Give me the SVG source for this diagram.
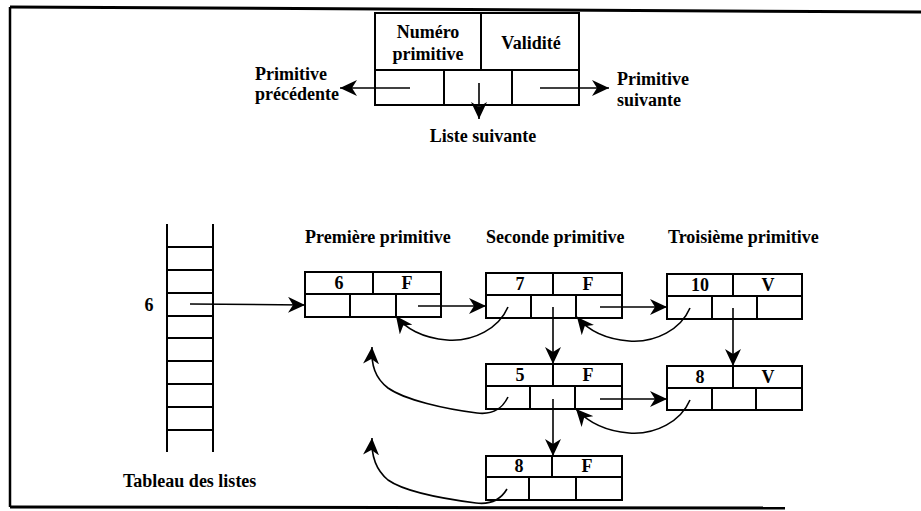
<svg xmlns="http://www.w3.org/2000/svg" width="921" height="511" viewBox="0 0 921 511">
<defs>
<marker id="ah" markerUnits="userSpaceOnUse" markerWidth="18" markerHeight="16" viewBox="0 0 18 16" refX="17" refY="8" orient="auto">
<path d="M0,0 L17,8 L0,16 L5,8 z" fill="#000"/>
</marker>
<style>
.b{fill:#fff;stroke:#000;stroke-width:2}
.l{stroke:#000;stroke-width:2;fill:none}
.c{stroke:#000;stroke-width:1.6;fill:none;marker-end:url(#ah)}
.t{font-family:'Liberation Serif','DejaVu Serif',serif;font-weight:bold;font-size:18px;fill:#000}
.m{text-anchor:middle}
</style>
</defs>
<rect width="921" height="511" fill="#fff"/>
<g id="frame">
<path d="M10,7 L921,12" stroke="#000" stroke-width="3" fill="none"/>
<path d="M10,7 L10,507" stroke="#000" stroke-width="2.5" fill="none"/>
<path d="M10,507 L785,508" stroke="#000" stroke-width="3" fill="none"/>
</g>
<g id="legend" class="t" font-family="Liberation Serif, serif">
<rect class="b" x="375" y="13" width="204" height="92"/>
<line class="l" x1="375" y1="70" x2="579" y2="70"/>
<line class="l" x1="481" y1="13" x2="481" y2="70"/>
<line class="l" x1="444" y1="70" x2="444" y2="105"/>
<line class="l" x1="512" y1="70" x2="512" y2="105"/>
<text class="m" x="428" y="38">Numéro</text>
<text class="m" x="428" y="60">primitive</text>
<text class="m" x="531" y="49">Validité</text>
</g>
<g id="lbl-prev" class="t"><text x="255" y="80">Primitive</text><text x="255" y="100">précédente</text></g>
<g id="lbl-next" class="t"><text x="617" y="85">Primitive</text><text x="617" y="106">suivante</text></g>
<g id="lbl-list" class="t"><text class="m" x="483" y="142">Liste suivante</text></g>
<g id="table" class="t">
<line class="l" x1="167" y1="224" x2="167" y2="452"/>
<line class="l" x1="213" y1="224" x2="213" y2="452"/>
<line class="l" x1="167" y1="247" x2="213" y2="247"/>
<line class="l" x1="167" y1="270" x2="213" y2="270"/>
<line class="l" x1="167" y1="293" x2="213" y2="293"/>
<line class="l" x1="167" y1="316" x2="213" y2="316"/>
<line class="l" x1="167" y1="338" x2="213" y2="338"/>
<line class="l" x1="167" y1="361" x2="213" y2="361"/>
<line class="l" x1="167" y1="384" x2="213" y2="384"/>
<line class="l" x1="167" y1="407" x2="213" y2="407"/>
<line class="l" x1="167" y1="430" x2="213" y2="430"/>
<text class="m" x="149" y="311">6</text>
<text x="123" y="487">Tableau des listes</text>
</g>
<g id="titles" class="t">
<text x="305" y="243">Première primitive</text>
<text x="486" y="243">Seconde primitive</text>
<text x="668" y="243">Troisième primitive</text>
</g>
<g id="p1" class="t" transform="translate(305,272)">
<rect class="b" width="136" height="45"/><line class="l" x1="0" y1="22" x2="136" y2="22"/><line class="l" x1="68" y1="0" x2="68" y2="22"/><line class="l" x1="45" y1="22" x2="45" y2="45"/><line class="l" x1="91" y1="22" x2="91" y2="45"/>
<text class="m" x="34" y="17">6</text><text class="m" x="102" y="17">F</text>
</g>
<g id="p2" class="t" transform="translate(486,273)">
<rect class="b" width="136" height="45"/><line class="l" x1="0" y1="22" x2="136" y2="22"/><line class="l" x1="67" y1="0" x2="67" y2="22"/><line class="l" x1="45" y1="22" x2="45" y2="45"/><line class="l" x1="90" y1="22" x2="90" y2="45"/>
<text class="m" x="34" y="17">7</text><text class="m" x="102" y="17">F</text>
</g>
<g id="p3" class="t" transform="translate(667,274)">
<rect class="b" width="135" height="45"/><line class="l" x1="0" y1="22" x2="135" y2="22"/><line class="l" x1="66" y1="0" x2="66" y2="22"/><line class="l" x1="45" y1="22" x2="45" y2="45"/><line class="l" x1="90" y1="22" x2="90" y2="45"/>
<text class="m" x="33" y="17">10</text><text class="m" x="101" y="17">V</text>
</g>
<g id="p4" class="t" transform="translate(486,364)">
<rect class="b" width="136" height="45"/><line class="l" x1="0" y1="22" x2="136" y2="22"/><line class="l" x1="67" y1="0" x2="67" y2="22"/><line class="l" x1="44" y1="22" x2="44" y2="45"/><line class="l" x1="89" y1="22" x2="89" y2="45"/>
<text class="m" x="34" y="17">5</text><text class="m" x="102" y="17">F</text>
</g>
<g id="p5" class="t" transform="translate(667,366)">
<rect class="b" width="135" height="44"/><line class="l" x1="0" y1="22" x2="135" y2="22"/><line class="l" x1="66" y1="0" x2="66" y2="22"/><line class="l" x1="45" y1="22" x2="45" y2="44"/><line class="l" x1="89" y1="22" x2="89" y2="44"/>
<text class="m" x="33" y="17">8</text><text class="m" x="101" y="17">V</text>
</g>
<g id="p6" class="t" transform="translate(486,456)">
<rect class="b" width="136" height="44"/><line class="l" x1="0" y1="21" x2="136" y2="21"/><line class="l" x1="66" y1="0" x2="66" y2="21"/><line class="l" x1="43" y1="21" x2="43" y2="44"/><line class="l" x1="90" y1="21" x2="90" y2="44"/>
<text class="m" x="33" y="16">8</text><text class="m" x="101" y="16">F</text>
</g>
<g id="connectors">
<path class="c" d="M410,88 L340,88"/>
<path class="c" d="M479,83 L479,119"/>
<path class="c" d="M540,88 L609,88"/>
<path class="c" d="M190,304 L305,305"/>
<path class="c" d="M418,306 L486,306"/>
<path class="c" d="M600,307 L667,307"/>
<path class="c" d="M553,307 L553,364"/>
<path class="c" d="M733,308 L733,366"/>
<path class="c" d="M600,399 L667,399"/>
<path class="c" d="M553,399 L553,456"/>
<path class="c" d="M508,307 C499,328 474,342 447,340 C422,338 405,328 396,316"/>
<path class="c" d="M690,308 C681,329 656,343 629,341 C604,339 587,329 577,317"/>
<path class="c" d="M690,400 C681,421 656,435 629,433 C604,431 587,421 576,409"/>
<path class="c" d="M508,397 C502,409 493,415 477,413 C445,409 405,400 388,388 C375,378 371,365 372,347"/>
<path class="c" d="M507,489 C501,499 492,505 476,503 C445,499 405,492 388,480 C376,470 371,456 372,438"/>
</g>
</svg>
